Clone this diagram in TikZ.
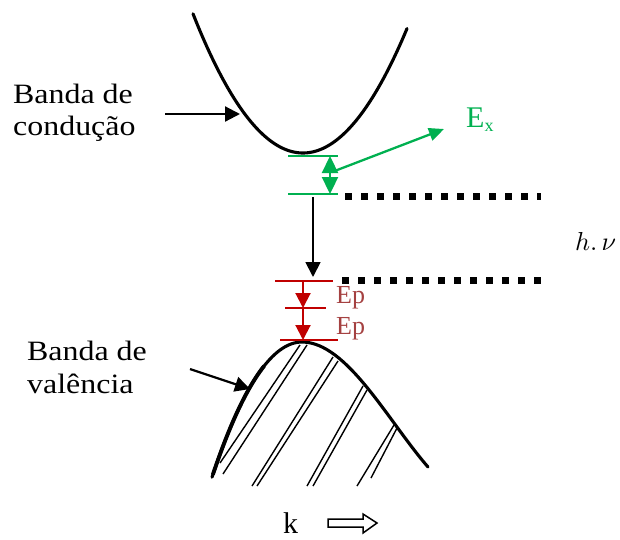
\documentclass[tikz,border=0pt]{standalone}
\usepackage{fontspec}
\setmainfont{Liberation Serif}
\newfontfamily\widefont[FakeStretch=1.14]{Liberation Serif}
\usetikzlibrary{arrows.meta}
\definecolor{exgreen}{RGB}{0,176,80}
\definecolor{epred}{RGB}{192,0,0}
\definecolor{eptext}{RGB}{165,65,65}
\tikzset{
  lbl/.style={inner sep=0pt, anchor=base west, font=\widefont\fontsize{28}{32}\selectfont},
  band/.style={line width=3.1pt, line join=round, line cap=round},
  hatch/.style={line width=1.4pt},
  blackarrow/.style={line width=2.2pt, -{Triangle[length=15pt,width=15pt]}},
  greenarrow/.style={exgreen, line width=2.3pt, -{Triangle[length=17pt,width=16pt]}},
  redarrow/.style={epred, line width=2pt, -{Triangle[length=15pt,width=15pt]}},
  level/.style={line width=1.8pt},
  dots/.style={line width=7pt, dash pattern=on 7pt off 9pt}
}
\begin{document}
\begin{tikzpicture}[x=1pt,y=-1pt]
\useasboundingbox (0,0) rectangle (620,539);
% conduction band
\draw[band] plot[domain=-110:104, samples=90] ({303+\x},{153-0.0115*\x*\x});
% valence band
\draw[band] plot[domain=-90:0, samples=50] ({302+\x},{342+0.0167*\x*\x}) .. controls (347,342) and (388,421) .. (428,467);
\draw[line width=3.9pt, line cap=round] plot[domain=-89:-38, samples=30] ({302+\x},{342+0.0167*\x*\x});
% hatching
\draw[hatch] (300,345) -- (220,463);
\draw[hatch] (307,345) -- (223,474);
\draw[hatch] (333,357) -- (252,486);
\draw[hatch] (338,361) -- (257,486);
\draw[hatch] (363,386) -- (307,486);
\draw[hatch] (367,390) -- (313,486);
\draw[hatch] (394,425) -- (357,486);
\draw[hatch] (397,428) -- (371,478);
% labels
\node[lbl] (cb1) at (13,103) {Banda de};
\node[lbl] (cb2) at (13,135) {condução};
\node[lbl] (vb1) at (27,360) {Banda de};
\node[lbl] (vb2) at (27,393) {valência};
\coordinate (cbtail) at (165,114);
\coordinate (cbtip) at (240,114);
\draw[blackarrow] (cbtail) -- (cbtip);
\coordinate (vbtail) at (190,369);
\coordinate (vbtip) at (250,389);
\draw[blackarrow] (vbtail) -- (vbtip);
% green levels
\draw[exgreen, level] (288,156) coordinate (g1l) -- (338,156) coordinate (g1r);
\draw[exgreen, level] (288,194) coordinate (g2l) -- (338,194) coordinate (g2r);
\coordinate (gmid) at (330,174);
\coordinate (gtop) at (330,156);
\coordinate (gbot) at (330,194);
\draw[greenarrow] (gmid) -- (gtop);
\draw[greenarrow] (gmid) -- (gbot);
\coordinate (ex0) at (332,172);
\coordinate (ex1) at (444,129);
\draw[exgreen, line width=2.3pt, -{Triangle[length=15pt,width=13pt]}] (ex0) -- (ex1);
\node[inner sep=0pt, anchor=base west, text=exgreen, font=\fontsize{30}{30}\selectfont] (ex) at (466,127) {E\raisebox{-4pt}{\fontsize{18}{18}\selectfont x}};
% dotted levels
\coordinate (d1a) at (345,196);
\coordinate (d1b) at (541,196);
\draw[dots] (d1a) -- (d1b);
\coordinate (d2a) at (342,280);
\coordinate (d2b) at (541,280);
\draw[dots] (d2a) -- (d2b);
\node[inner sep=0pt, anchor=base west] (hnu) at (575,250) {\scalebox{2.6}{$h.\,\nu$}};
% black transition arrow
\coordinate (ta) at (313,197);
\coordinate (tb) at (313,277);
\draw[blackarrow, line width=1.8pt] (ta) -- (tb);
% red levels
\draw[epred, level] (275,281) coordinate (r1l) -- (333,281) coordinate (r1r);
\draw[epred, level] (285,308) coordinate (r2l) -- (326,308) coordinate (r2r);
\draw[epred, level] (280,340) coordinate (r3l) -- (338,340) coordinate (r3r);
\coordinate (ra) at (303,281);
\coordinate (rb) at (303,308);
\coordinate (rc) at (303,340);
\draw[redarrow] (ra) -- (rb);
\draw[redarrow] (rb) -- (rc);
\node[inner sep=0pt, anchor=base west, text=eptext, font=\fontsize{26}{26}\selectfont] (ep1) at (336,303) {Ep};
\node[inner sep=0pt, anchor=base west, text=eptext, font=\fontsize{26}{26}\selectfont] (ep2) at (336,334) {Ep};
% k axis
\node[inner sep=0pt, anchor=base west, font=\fontsize{30}{30}\selectfont] (k) at (283,533) {k};
\draw[line width=1.5pt, line join=miter] (328,519) -- (363,519) -- (363,514) -- (377,523) -- (363,533) -- (363,527) -- (328,527) -- cycle;
\end{tikzpicture}
\end{document}
